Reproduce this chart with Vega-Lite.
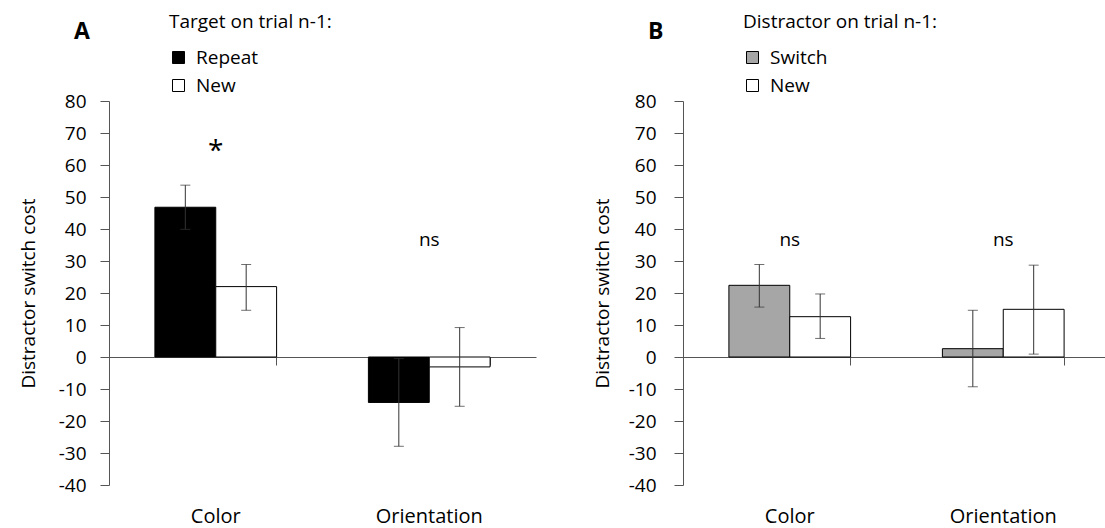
{
  "$schema": "https://vega.github.io/schema/vega-lite/v6.json",
  "background": "white",
  "padding": {"left": 19, "top": 13, "right": 0, "bottom": 0},
  "spacing": 57,
  "resolve": {"scale": {"fill": "independent", "xOffset": "independent"}, "legend": {"fill": "independent"}},
  "config": {
    "font": "Open Sans",
    "view": {"stroke": null},
    "axis": {"domainColor": "#555", "tickColor": "#555", "labelColor": "black", "titleColor": "black", "labelFontSize": 19, "titleFontSize": 19, "titleFontWeight": "normal", "grid": false},
    "axisY": {"values": [-40, -30, -20, -10, 0, 10, 20, 30, 40, 50, 60, 70, 80], "labelOverlap": false, "tickSize": 9, "labelExpr": "replace(datum.label, '−', '-')"},
    "legend": {"titleFontWeight": "normal", "titleColor": "black", "labelColor": "black", "titleFontSize": 19, "labelFontSize": 19, "titleLimit": 400}
  },
  "hconcat": [
    {
      "width": 427,
      "height": 384,
      "title": {"text": "A", "anchor": "start", "frame": "group", "fontSize": 23, "fontWeight": "bold", "color": "black", "dx": -35, "dy": 41, "offset": 10},
      "data": {"values": [
        {"cat": "Color", "grp": "Repeat", "value": 46.8, "lo": 39.9, "hi": 53.7},
        {"cat": "Color", "grp": "New", "value": 22.0, "lo": 14.6, "hi": 28.9},
        {"cat": "Orientation", "grp": "Repeat", "value": -14.2, "lo": -27.9, "hi": -0.5},
        {"cat": "Orientation", "grp": "New", "value": -3.1, "lo": -15.4, "hi": 9.2}
      ]},
      "resolve": {"axis": {"x": "independent"}},
      "layer": [
        {
          "mark": {"type": "bar", "stroke": "black", "strokeWidth": 1},
          "encoding": {
            "x": {"field": "cat", "type": "nominal", "scale": {"type": "band", "domain": ["Color", "Orientation"], "paddingInner": 0.43, "paddingOuter": 0.215},
              "axis": {"title": null, "domain": false, "ticks": false, "labelAngle": 0, "labelFontSize": 20, "labelPadding": 21}},
            "xOffset": {"field": "grp", "type": "nominal", "scale": {"type": "band", "domain": ["Repeat", "New"], "paddingInner": 0, "paddingOuter": 0}},
            "y": {"field": "value", "type": "quantitative", "scale": {"domain": [-40, 80], "nice": false, "zero": false},
              "axis": {"title": "Distractor switch cost", "labelPadding": 14, "titlePadding": 20}},
            "fill": {"field": "grp", "type": "nominal", "scale": {"domain": ["Repeat", "New"], "range": ["black", "white"]},
              "legend": {"orient": "none", "legendX": 60, "legendY": -88, "title": "Target on trial n-1:", "symbolType": "square", "symbolSize": 144, "symbolStrokeColor": "black", "symbolStrokeWidth": 1, "rowPadding": 8, "titlePadding": 16, "labelOffset": 8}}
          }
        },
        {
          "mark": {"type": "rule", "color": "#333", "strokeWidth": 1},
          "encoding": {
            "x": {"field": "cat", "type": "nominal", "scale": {"type": "band", "domain": ["Color", "Orientation"], "paddingInner": 0.43, "paddingOuter": 0.215},
              "axis": {"orient": "top", "title": null, "labels": false, "domain": true, "ticks": true, "bandPosition": 1, "tickSize": -8, "offset": -256}},
            "xOffset": {"field": "grp", "type": "nominal", "scale": {"type": "band", "domain": ["Repeat", "New"], "paddingInner": 0, "paddingOuter": 0}},
            "y": {"field": "lo", "type": "quantitative", "axis": {"title": "Distractor switch cost", "labelPadding": 14, "titlePadding": 20}},
            "y2": {"field": "hi"}
          }
        },
        {
          "mark": {"type": "tick", "color": "#333", "size": 10, "thickness": 1, "orient": "horizontal"},
          "encoding": {
            "x": {"field": "cat", "type": "nominal", "axis": null},
            "xOffset": {"field": "grp", "type": "nominal", "scale": {"type": "band", "domain": ["Repeat", "New"], "paddingInner": 0, "paddingOuter": 0}},
            "y": {"field": "lo", "type": "quantitative", "axis": {"title": "Distractor switch cost", "labelPadding": 14, "titlePadding": 20}}
          }
        },
        {
          "mark": {"type": "tick", "color": "#333", "size": 10, "thickness": 1, "orient": "horizontal"},
          "encoding": {
            "x": {"field": "cat", "type": "nominal", "axis": null},
            "xOffset": {"field": "grp", "type": "nominal", "scale": {"type": "band", "domain": ["Repeat", "New"], "paddingInner": 0, "paddingOuter": 0}},
            "y": {"field": "hi", "type": "quantitative", "axis": {"title": "Distractor switch cost", "labelPadding": 14, "titlePadding": 20}}
          }
        },
        {
          "data": {"values": [{"cat": "Color", "note": "*", "ny": 64}]},
          "mark": {"type": "text", "baseline": "middle", "align": "center", "color": "black", "fontSize": 28},
          "encoding": {
            "x": {"field": "cat", "type": "nominal", "axis": null},
            "y": {"field": "ny", "type": "quantitative", "axis": {"title": "Distractor switch cost", "labelPadding": 14, "titlePadding": 20}},
            "text": {"field": "note"}
          }
        },
        {
          "data": {"values": [{"cat": "Orientation", "note": "ns", "ny": 36.5}]},
          "mark": {"type": "text", "baseline": "middle", "align": "center", "color": "black", "fontSize": 19},
          "encoding": {
            "x": {"field": "cat", "type": "nominal", "axis": null},
            "y": {"field": "ny", "type": "quantitative", "axis": {"title": "Distractor switch cost", "labelPadding": 14, "titlePadding": 20}},
            "text": {"field": "note"}
          }
        }
      ]
    },
    {
      "width": 427,
      "height": 384,
      "title": {"text": "B", "anchor": "start", "frame": "group", "fontSize": 23, "fontWeight": "bold", "color": "black", "dx": -35, "dy": 41, "offset": 10},
      "data": {"values": [
        {"cat": "Color", "grp": "Switch", "value": 22.4, "lo": 15.6, "hi": 28.9},
        {"cat": "Color", "grp": "New", "value": 12.6, "lo": 5.8, "hi": 19.7},
        {"cat": "Orientation", "grp": "Switch", "value": 2.6, "lo": -9.3, "hi": 14.6},
        {"cat": "Orientation", "grp": "New", "value": 14.9, "lo": 0.9, "hi": 28.7}
      ]},
      "resolve": {"axis": {"x": "independent"}},
      "layer": [
        {
          "mark": {"type": "bar", "stroke": "black", "strokeWidth": 1},
          "encoding": {
            "x": {"field": "cat", "type": "nominal", "scale": {"type": "band", "domain": ["Color", "Orientation"], "paddingInner": 0.43, "paddingOuter": 0.215},
              "axis": {"title": null, "domain": false, "ticks": false, "labelAngle": 0, "labelFontSize": 20, "labelPadding": 21}},
            "xOffset": {"field": "grp", "type": "nominal", "scale": {"type": "band", "domain": ["Switch", "New"], "paddingInner": 0, "paddingOuter": 0}},
            "y": {"field": "value", "type": "quantitative", "scale": {"domain": [-40, 80], "nice": false, "zero": false},
              "axis": {"title": "Distractor switch cost", "labelPadding": 18, "titlePadding": 16}},
            "fill": {"field": "grp", "type": "nominal", "scale": {"domain": ["Switch", "New"], "range": ["#a6a6a6", "white"]},
              "legend": {"orient": "none", "legendX": 60, "legendY": -88, "title": "Distractor on trial n-1:", "symbolType": "square", "symbolSize": 144, "symbolStrokeColor": "black", "symbolStrokeWidth": 1, "rowPadding": 8, "titlePadding": 16, "labelOffset": 8}}
          }
        },
        {
          "mark": {"type": "rule", "color": "#333", "strokeWidth": 1},
          "encoding": {
            "x": {"field": "cat", "type": "nominal", "scale": {"type": "band", "domain": ["Color", "Orientation"], "paddingInner": 0.43, "paddingOuter": 0.215},
              "axis": {"orient": "top", "title": null, "labels": false, "domain": true, "ticks": true, "bandPosition": 1, "tickSize": -8, "offset": -256}},
            "xOffset": {"field": "grp", "type": "nominal", "scale": {"type": "band", "domain": ["Switch", "New"], "paddingInner": 0, "paddingOuter": 0}},
            "y": {"field": "lo", "type": "quantitative", "axis": {"title": "Distractor switch cost", "labelPadding": 18, "titlePadding": 16}},
            "y2": {"field": "hi"}
          }
        },
        {
          "mark": {"type": "tick", "color": "#333", "size": 10, "thickness": 1, "orient": "horizontal"},
          "encoding": {
            "x": {"field": "cat", "type": "nominal", "axis": null},
            "xOffset": {"field": "grp", "type": "nominal", "scale": {"type": "band", "domain": ["Switch", "New"], "paddingInner": 0, "paddingOuter": 0}},
            "y": {"field": "lo", "type": "quantitative", "axis": {"title": "Distractor switch cost", "labelPadding": 18, "titlePadding": 16}}
          }
        },
        {
          "mark": {"type": "tick", "color": "#333", "size": 10, "thickness": 1, "orient": "horizontal"},
          "encoding": {
            "x": {"field": "cat", "type": "nominal", "axis": null},
            "xOffset": {"field": "grp", "type": "nominal", "scale": {"type": "band", "domain": ["Switch", "New"], "paddingInner": 0, "paddingOuter": 0}},
            "y": {"field": "hi", "type": "quantitative", "axis": {"title": "Distractor switch cost", "labelPadding": 18, "titlePadding": 16}}
          }
        },
        {
          "data": {"values": [
            {"cat": "Color", "note": "ns", "ny": 36.5},
            {"cat": "Orientation", "note": "ns", "ny": 36.5}
          ]},
          "mark": {"type": "text", "baseline": "middle", "align": "center", "color": "black", "fontSize": 19},
          "encoding": {
            "x": {"field": "cat", "type": "nominal", "axis": null},
            "y": {"field": "ny", "type": "quantitative", "axis": {"title": "Distractor switch cost", "labelPadding": 18, "titlePadding": 16}},
            "text": {"field": "note"}
          }
        }
      ]
    }
  ]
}
